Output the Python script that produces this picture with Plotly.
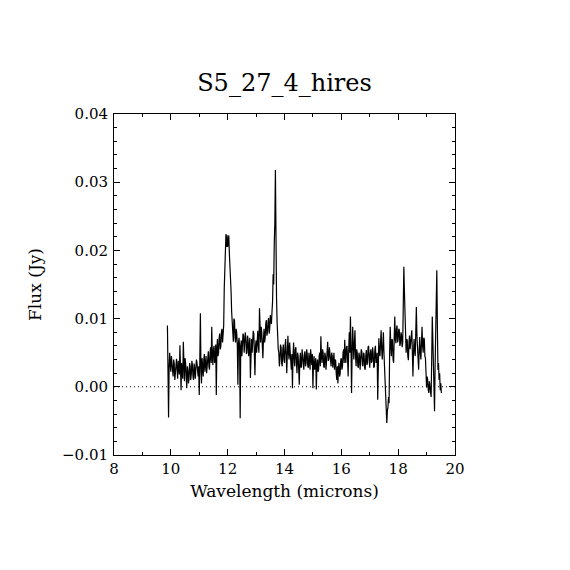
import plotly.graph_objects as go

title_text = "S5_27_4_hires"
x_label = "Wavelength (microns)"
y_label = "Flux (Jy)"

wavelength = [
    9.88, 9.90, 9.92, 9.94, 9.96, 9.98, 10.00, 10.02, 10.04, 10.06, 10.08, 10.10,
    10.12, 10.14, 10.16, 10.18, 10.20, 10.22, 10.24, 10.26, 10.28, 10.30, 10.32, 10.34,
    10.36, 10.38, 10.40, 10.42, 10.44, 10.46, 10.48, 10.50, 10.52, 10.54, 10.56, 10.58,
    10.60, 10.62, 10.64, 10.66, 10.68, 10.70, 10.72, 10.74, 10.76, 10.78, 10.80, 10.82,
    10.84, 10.86, 10.88, 10.90, 10.92, 10.94, 10.96, 10.98, 11.00, 11.02, 11.04, 11.06,
    11.08, 11.10, 11.12, 11.14, 11.16, 11.18, 11.20, 11.22, 11.24, 11.26, 11.28, 11.30,
    11.32, 11.34, 11.36, 11.38, 11.40, 11.42, 11.44, 11.46, 11.48, 11.50, 11.52, 11.54,
    11.56, 11.58, 11.60, 11.62, 11.64, 11.66, 11.68, 11.70, 11.72, 11.74, 11.76, 11.78,
    11.80, 11.82, 11.84, 11.86, 11.88, 11.90, 11.92, 11.94, 11.96, 11.98, 12.00, 12.02,
    12.04, 12.06, 12.08, 12.10, 12.12, 12.14, 12.16, 12.18, 12.20, 12.22, 12.24, 12.26,
    12.28, 12.30, 12.32, 12.34, 12.36, 12.38, 12.40, 12.42, 12.44, 12.46, 12.48, 12.50,
    12.52, 12.54, 12.56, 12.58, 12.60, 12.62, 12.64, 12.66, 12.68, 12.70, 12.72, 12.74,
    12.76, 12.78, 12.80, 12.82, 12.84, 12.86, 12.88, 12.90, 12.92, 12.94, 12.96, 12.98,
    13.00, 13.02, 13.04, 13.06, 13.08, 13.10, 13.12, 13.14, 13.16, 13.18, 13.20, 13.22,
    13.24, 13.26, 13.28, 13.30, 13.32, 13.34, 13.36, 13.38, 13.40, 13.42, 13.44, 13.46,
    13.48, 13.50, 13.52, 13.54, 13.56, 13.58, 13.60, 13.62, 13.64, 13.66, 13.68, 13.70,
    13.72, 13.74, 13.76, 13.78, 13.80, 13.82, 13.84, 13.86, 13.88, 13.90, 13.92, 13.94,
    13.96, 13.98, 14.00, 14.02, 14.04, 14.06, 14.08, 14.10, 14.12, 14.14, 14.16, 14.18,
    14.20, 14.22, 14.24, 14.26, 14.28, 14.30, 14.32, 14.34, 14.36, 14.38, 14.40, 14.42,
    14.44, 14.46, 14.48, 14.50, 14.52, 14.54, 14.56, 14.58, 14.60, 14.62, 14.64, 14.66,
    14.68, 14.70, 14.72, 14.74, 14.76, 14.78, 14.80, 14.82, 14.84, 14.86, 14.88, 14.90,
    14.92, 14.94, 14.96, 14.98, 15.00, 15.02, 15.04, 15.06, 15.08, 15.10, 15.12, 15.14,
    15.16, 15.18, 15.20, 15.22, 15.24, 15.26, 15.28, 15.30, 15.32, 15.34, 15.36, 15.38,
    15.40, 15.42, 15.44, 15.46, 15.48, 15.50, 15.52, 15.54, 15.56, 15.58, 15.60, 15.62,
    15.64, 15.66, 15.68, 15.70, 15.72, 15.74, 15.76, 15.78, 15.80, 15.82, 15.84, 15.86,
    15.88, 15.90, 15.92, 15.94, 15.96, 15.98, 16.00, 16.02, 16.04, 16.06, 16.08, 16.10,
    16.12, 16.14, 16.16, 16.18, 16.20, 16.22, 16.24, 16.26, 16.28, 16.30, 16.32, 16.34,
    16.36, 16.38, 16.40, 16.42, 16.44, 16.46, 16.48, 16.50, 16.52, 16.54, 16.56, 16.58,
    16.60, 16.62, 16.64, 16.66, 16.68, 16.70, 16.72, 16.74, 16.76, 16.78, 16.80, 16.82,
    16.84, 16.86, 16.88, 16.90, 16.92, 16.94, 16.96, 16.98, 17.00, 17.02, 17.04, 17.06,
    17.08, 17.10, 17.12, 17.14, 17.16, 17.18, 17.20, 17.22, 17.24, 17.26, 17.28, 17.30,
    17.32, 17.34, 17.36, 17.38, 17.40, 17.42, 17.44, 17.46, 17.48, 17.50, 17.52, 17.54,
    17.56, 17.58, 17.60, 17.62, 17.64, 17.66, 17.68, 17.70, 17.72, 17.74, 17.76, 17.78,
    17.80, 17.82, 17.84, 17.86, 17.88, 17.90, 17.92, 17.94, 17.96, 17.98, 18.00, 18.02,
    18.04, 18.06, 18.08, 18.10, 18.12, 18.14, 18.16, 18.18, 18.20, 18.22, 18.24, 18.26,
    18.28, 18.30, 18.32, 18.34, 18.36, 18.38, 18.40, 18.42, 18.44, 18.46, 18.48, 18.50,
    18.52, 18.54, 18.56, 18.58, 18.60, 18.62, 18.64, 18.66, 18.68, 18.70, 18.72, 18.74,
    18.76, 18.78, 18.80, 18.82, 18.84, 18.86, 18.88, 18.90, 18.92, 18.94, 18.96, 18.98,
    19.00, 19.02, 19.04, 19.06, 19.08, 19.10, 19.12, 19.14, 19.16, 19.18, 19.20, 19.22,
    19.24, 19.26, 19.28, 19.30, 19.32, 19.34, 19.36, 19.38, 19.40, 19.42, 19.44, 19.46,
    19.48, 19.50, 19.52,
]

flux = [
    0.0090, 0.0020, -0.0045, 0.0030, 0.0050, 0.0032, 0.0022, 0.0045, 0.0038, 0.0025, 0.0015, 0.0040,
    0.0034, 0.0010, 0.0020, 0.0036, 0.0041, 0.0025, 0.0012, 0.0038, 0.0030, 0.0018, 0.0061, 0.0025,
    -0.0005, 0.0035, 0.0028, 0.0012, 0.0066, 0.0030, 0.0008, 0.0042, 0.0035, 0.0015, -0.0002, 0.0030,
    0.0025, 0.0005, 0.0012, 0.0035, 0.0030, 0.0010, 0.0018, 0.0038, 0.0032, 0.0015, 0.0010, 0.0034,
    0.0028, 0.0012, 0.0022, 0.0040, 0.0035, 0.0020, 0.0015, 0.0030, -0.0012, 0.0040, 0.0108, 0.0025,
    0.0005, 0.0042, 0.0030, 0.0015, 0.0040, 0.0048, 0.0022, 0.0035, 0.0045, 0.0020, 0.0030, 0.0048,
    0.0052, 0.0030, 0.0025, 0.0050, 0.0058, 0.0035, 0.0088, 0.0045, 0.0032, 0.0055, 0.0060, 0.0035,
    0.0040, 0.0062, -0.0012, 0.0055, 0.0070, 0.0045, 0.0050, 0.0072, 0.0078, 0.0055, 0.0060, 0.0080,
    0.0085, 0.0065, 0.0075, 0.0090, 0.0145, 0.0190, 0.0210, 0.0224, 0.0205, 0.0222, 0.0205, 0.0218,
    0.0222, 0.0195, 0.0180, 0.0160, 0.0140, 0.0110, 0.0098, 0.0075, 0.0066, 0.0100, 0.0097, 0.0072,
    0.0065, 0.0085, 0.0078, 0.0060, 0.0003, 0.0065, 0.0072, 0.0058, -0.0046, 0.0060, 0.0068, 0.0045,
    0.0055, 0.0078, 0.0075, 0.0050, 0.0060, 0.0080, 0.0072, 0.0048, 0.0050, 0.0075, 0.0068, 0.0045,
    0.0058, 0.0072, 0.0013, 0.0060, 0.0070, 0.0050, 0.0062, 0.0082, 0.0078, 0.0055, 0.0017, 0.0060,
    0.0068, 0.0050, 0.0075, 0.0082, 0.0060, 0.0050, 0.0115, 0.0070, 0.0065, 0.0088, 0.0080, 0.0060,
    0.0042, 0.0070, 0.0085, 0.0065, 0.0072, 0.0092, 0.0098, 0.0075, 0.0080, 0.0095, 0.0101, 0.0078,
    0.0085, 0.0105, 0.0098, 0.0092, 0.0110, 0.0125, 0.0165, 0.0150, 0.0211, 0.0240, 0.0318, 0.0180,
    0.0130, 0.0095, 0.0066, 0.0055, 0.0050, 0.0030, 0.0040, 0.0062, 0.0058, 0.0035, 0.0030, 0.0055,
    0.0062, 0.0040, 0.0035, 0.0060, 0.0070, 0.0045, 0.0020, 0.0050, 0.0075, 0.0050, 0.0040, 0.0065,
    0.0055, 0.0035, 0.0025, 0.0048, -0.0002, 0.0045, 0.0065, 0.0042, 0.0030, 0.0055, 0.0058, 0.0035,
    0.0020, 0.0050, 0.0045, 0.0025, 0.0003, 0.0040, 0.0050, 0.0028, 0.0030, 0.0055, 0.0045, 0.0030,
    0.0025, 0.0048, 0.0052, 0.0030, 0.0035, 0.0055, 0.0048, 0.0030, 0.0028, 0.0050, 0.0042, 0.0025,
    0.0055, 0.0040, 0.0032, 0.0048, -0.0002, 0.0035, 0.0045, 0.0025, 0.0030, 0.0042, -0.0004, 0.0030,
    0.0040, 0.0022, 0.0025, 0.0045, 0.0050, 0.0030, 0.0074, 0.0045, 0.0035, 0.0055, 0.0050, 0.0030,
    0.0028, 0.0050, 0.0045, 0.0025, 0.0035, 0.0052, 0.0066, 0.0038, 0.0040, 0.0058, 0.0048, 0.0030,
    0.0030, 0.0050, 0.0045, 0.0028, 0.0038, 0.0050, 0.0025, 0.0040, 0.0039, 0.0020, 0.0010, 0.0030,
    0.0005, 0.0028, 0.0035, 0.0015, 0.0020, 0.0040, 0.0042, 0.0025, 0.0030, 0.0050, 0.0055, 0.0035,
    0.0069, 0.0045, 0.0035, 0.0058, 0.0060, 0.0040, 0.0015, 0.0055, 0.0080, 0.0050, 0.0103, 0.0060,
    -0.0009, 0.0050, 0.0088, 0.0060, 0.0040, 0.0065, 0.0083, 0.0045, 0.0030, 0.0055, 0.0050, 0.0030,
    0.0028, 0.0050, 0.0045, 0.0025, 0.0035, 0.0055, 0.0052, 0.0032, 0.0030, 0.0050, 0.0048, 0.0028,
    0.0025, 0.0045, 0.0054, 0.0032, 0.0035, 0.0058, 0.0060, 0.0040, 0.0028, 0.0050, 0.0055, 0.0035,
    0.0038, 0.0058, 0.0050, 0.0028, 0.0030, 0.0055, 0.0060, 0.0035, 0.0040, 0.0050, -0.0019, 0.0040,
    0.0071, 0.0050, 0.0045, 0.0065, 0.0083, 0.0055, 0.0040, 0.0060, 0.0080, 0.0050, 0.0030, 0.0010,
    -0.0019, -0.0040, -0.0053, -0.0035, -0.0030, -0.0015, -0.0024, 0.0050, 0.0088, 0.0060, 0.0045, 0.0070,
    0.0068, 0.0040, 0.0035, 0.0070, 0.0103, 0.0070, 0.0064, 0.0085, 0.0090, 0.0065, 0.0070, 0.0085,
    0.0083, 0.0060, 0.0064, 0.0080, 0.0075, 0.0058, 0.0065, 0.0120, 0.0176, 0.0140, 0.0108, 0.0065,
    0.0050, 0.0070, 0.0068, 0.0045, 0.0039, 0.0065, 0.0075, 0.0055, 0.0064, 0.0078, 0.0083, 0.0050,
    0.0015, 0.0050, 0.0070, 0.0052, 0.0045, 0.0080, 0.0117, 0.0075, 0.0060, 0.0045, 0.0025, 0.0055,
    0.0073, 0.0050, 0.0040, 0.0065, 0.0088, 0.0060, 0.0050, 0.0072, 0.0070, 0.0045, 0.0042, 0.0020,
    -0.0001, 0.0015, 0.0010, -0.0005, -0.0009, 0.0008, 0.0000, -0.0010, -0.0015, 0.0040, 0.0103, 0.0070,
    0.0040, 0.0005, -0.0036, 0.0030, 0.0090, 0.0120, 0.0171, 0.0090, 0.0025, 0.0035, 0.0010, 0.0020,
    -0.0005, 0.0005, -0.0009,
]

zero_x = [8, 20]
zero_y = [0, 0]

x_ticks = [8, 10, 12, 14, 16, 18, 20]
y_ticks = [-0.01, 0.00, 0.01, 0.02, 0.03, 0.04]

font_family = "DejaVu Serif"

n = min(len(wavelength), len(flux))

fig = go.Figure()
fig.add_trace(go.Scatter(x=zero_x, y=zero_y, mode="lines",
                         line=dict(color="black", width=1, dash="1px,3px"),
                         hoverinfo="skip", showlegend=False))
fig.add_trace(go.Scatter(x=wavelength[:n], y=flux[:n], mode="lines",
                         line=dict(color="black", width=1.2),
                         showlegend=False))

axis_common = dict(showline=True, linecolor="black", linewidth=1, mirror="allticks",
                   ticks="inside", ticklen=6, tickwidth=1, tickcolor="black",
                   showgrid=False, zeroline=False,
                   tickfont=dict(family=font_family, size=15, color="black"))

fig.update_xaxes(range=[8, 20], tickvals=x_ticks, ticktext=[str(v) for v in x_ticks],
                 minor=dict(dtick=1, ticklen=3, ticks="inside", tickcolor="black", showgrid=False),
                 title=dict(text=x_label, font=dict(family=font_family, size=17, color="black"), standoff=8),
                 **axis_common)
fig.update_yaxes(range=[-0.01, 0.04], tickvals=y_ticks, tickformat=".2f",
                 minor=dict(dtick=0.002, ticklen=3, ticks="inside", tickcolor="black", showgrid=False),
                 ticklabelstandoff=2,
                 title=dict(text=y_label, font=dict(family=font_family, size=17, color="black"), standoff=16),
                 **axis_common)

fig.update_layout(
    width=570, height=570,
    margin=dict(l=106, r=123, t=106, b=123, autoexpand=False),
    paper_bgcolor="white", plot_bgcolor="white",
    title=dict(text=title_text, x=(284.5 - 8) / 570, xanchor="center", y=1 - 75 / 570, yanchor="middle",
               font=dict(family=font_family, size=24, color="black")),
    showlegend=False,
)

fig.write_html("out.html")
